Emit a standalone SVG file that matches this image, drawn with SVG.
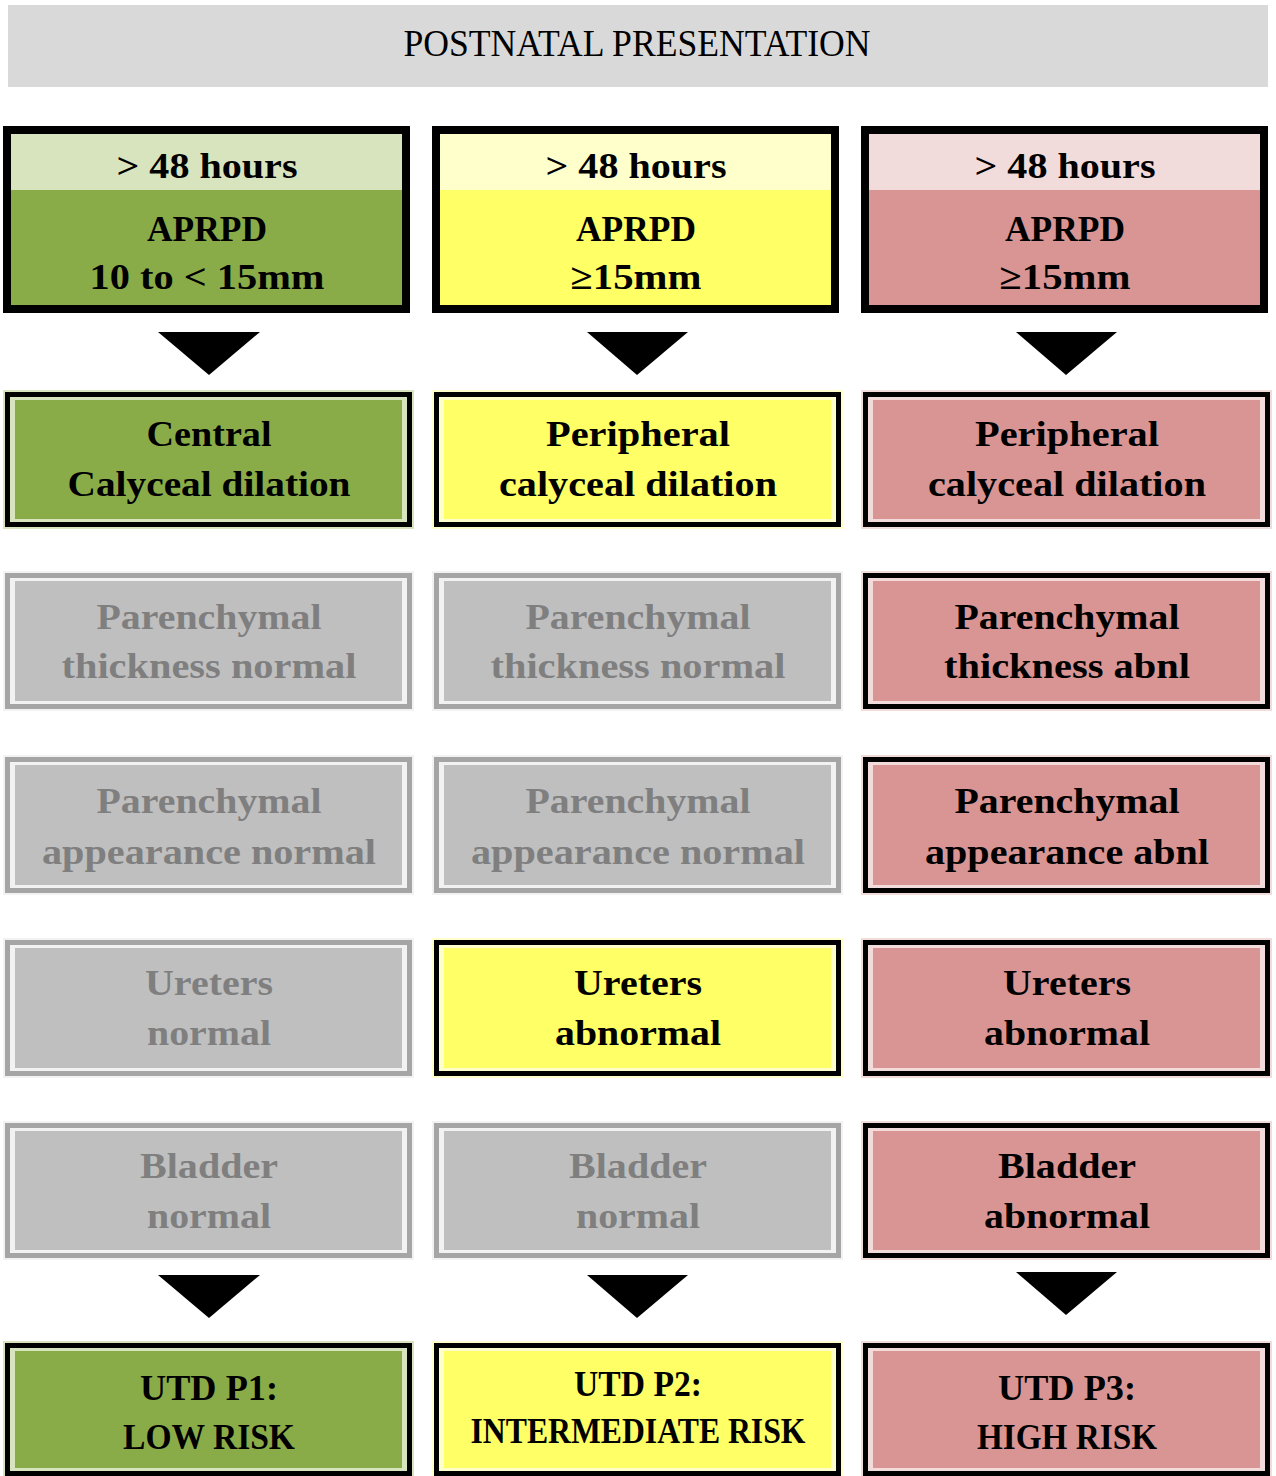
<svg xmlns="http://www.w3.org/2000/svg" width="1276" height="1476" viewBox="0 0 1276 1476">
<style>
.t{font-family:"Liberation Serif","DejaVu Serif",serif;font-weight:bold;font-size:36px;text-anchor:middle;fill:#000}
.tg{fill:#7f7f7f}
.title{font-family:"Liberation Serif","DejaVu Serif",serif;font-size:38px;text-anchor:middle;fill:#000}
.blk{fill:#000}
.gb{fill:#a5a5a5}
.gl{fill:#f2f2f2}
.gf{fill:#bfbfbf}
.grl{fill:#d7e4bd}
.grf{fill:#8aac48}
.yl{fill:#ffffcc}
.yf{fill:#ffff66}
.rl{fill:#f2dcdb}
.rf{fill:#d99594}
.arr{fill:#000}
</style>
<rect x="0" y="0" width="1276" height="1476" fill="#fff"/>
<g id="title">
<rect x="8" y="5" width="1260" height="82" fill="#d9d9d9"/>
<text class="title" x="637" y="56" textLength="467" lengthAdjust="spacingAndGlyphs">POSTNATAL PRESENTATION</text>
</g>

<!-- Top row -->
<g id="top1">
<rect class="blk" x="3" y="126" width="407" height="187"/>
<rect class="grl" x="11" y="134" width="391" height="56"/>
<rect class="grf" x="11" y="190" width="391" height="115"/>
<text class="t" x="207" y="178" textLength="181" lengthAdjust="spacingAndGlyphs">&gt; 48 hours</text>
<text class="t" x="207" y="241" textLength="120" lengthAdjust="spacingAndGlyphs">APRPD</text>
<text class="t" x="207" y="289" textLength="235" lengthAdjust="spacingAndGlyphs">10 to &lt; 15mm</text>
</g>
<g id="top2">
<rect class="blk" x="432" y="126" width="407" height="187"/>
<rect class="yl" x="440" y="134" width="391" height="56"/>
<rect class="yf" x="440" y="190" width="391" height="115"/>
<text class="t" x="636" y="178" textLength="181" lengthAdjust="spacingAndGlyphs">&gt; 48 hours</text>
<text class="t" x="636" y="241" textLength="120" lengthAdjust="spacingAndGlyphs">APRPD</text>
<text class="t" x="636" y="289" textLength="131" lengthAdjust="spacingAndGlyphs">≥15mm</text>
</g>
<g id="top3">
<rect class="blk" x="861" y="126" width="407" height="187"/>
<rect class="rl" x="869" y="134" width="391" height="56"/>
<rect class="rf" x="869" y="190" width="391" height="115"/>
<text class="t" x="1065" y="178" textLength="181" lengthAdjust="spacingAndGlyphs">&gt; 48 hours</text>
<text class="t" x="1065" y="241" textLength="120" lengthAdjust="spacingAndGlyphs">APRPD</text>
<text class="t" x="1065" y="289" textLength="131" lengthAdjust="spacingAndGlyphs">≥15mm</text>
</g>

<!-- Row 1 -->
<g id="r1c1">
<rect class="grl" x="3" y="390" width="411" height="139"/>
<rect class="blk" x="5" y="392" width="407" height="135"/>
<rect class="grl" x="10" y="397" width="397" height="125"/>
<rect class="grf" x="15" y="400" width="387" height="119"/>
<text class="t" x="209" y="446" textLength="125" lengthAdjust="spacingAndGlyphs">Central</text>
<text class="t" x="209" y="496" textLength="283" lengthAdjust="spacingAndGlyphs">Calyceal dilation</text>
</g>
<g id="r1c2">
<rect class="yl" x="432" y="390" width="411" height="139"/>
<rect class="blk" x="434" y="392" width="407" height="135"/>
<rect class="yl" x="439" y="397" width="397" height="125"/>
<rect class="yf" x="444" y="400" width="387" height="119"/>
<text class="t" x="638" y="446" textLength="184" lengthAdjust="spacingAndGlyphs">Peripheral</text>
<text class="t" x="638" y="496" textLength="278" lengthAdjust="spacingAndGlyphs">calyceal dilation</text>
</g>
<g id="r1c3">
<rect class="rl" x="861" y="390" width="411" height="139"/>
<rect class="blk" x="863" y="392" width="407" height="135"/>
<rect class="rl" x="868" y="397" width="397" height="125"/>
<rect class="rf" x="873" y="400" width="387" height="119"/>
<text class="t" x="1067" y="446" textLength="184" lengthAdjust="spacingAndGlyphs">Peripheral</text>
<text class="t" x="1067" y="496" textLength="278" lengthAdjust="spacingAndGlyphs">calyceal dilation</text>
</g>

<!-- Row 2 -->
<g id="r2c1">
<rect class="gl" x="3" y="571" width="411" height="140"/>
<rect class="gb" x="5" y="573" width="407" height="136"/>
<rect class="gl" x="10" y="578" width="397" height="126"/>
<rect class="gf" x="15" y="581" width="387" height="120"/>
<text class="t tg" x="209" y="629" textLength="225" lengthAdjust="spacingAndGlyphs">Parenchymal</text>
<text class="t tg" x="209" y="678" textLength="295" lengthAdjust="spacingAndGlyphs">thickness normal</text>
</g>
<g id="r2c2">
<rect class="gl" x="432" y="571" width="411" height="140"/>
<rect class="gb" x="434" y="573" width="407" height="136"/>
<rect class="gl" x="439" y="578" width="397" height="126"/>
<rect class="gf" x="444" y="581" width="387" height="120"/>
<text class="t tg" x="638" y="629" textLength="225" lengthAdjust="spacingAndGlyphs">Parenchymal</text>
<text class="t tg" x="638" y="678" textLength="295" lengthAdjust="spacingAndGlyphs">thickness normal</text>
</g>
<g id="r2c3">
<rect class="rl" x="861" y="571" width="411" height="140"/>
<rect class="blk" x="863" y="573" width="407" height="136"/>
<rect class="rl" x="868" y="578" width="397" height="126"/>
<rect class="rf" x="873" y="581" width="387" height="120"/>
<text class="t" x="1067" y="629" textLength="225" lengthAdjust="spacingAndGlyphs">Parenchymal</text>
<text class="t" x="1067" y="678" textLength="246" lengthAdjust="spacingAndGlyphs">thickness abnl</text>
</g>

<!-- Row 3 -->
<g id="r3c1">
<rect class="gl" x="3" y="755" width="411" height="140"/>
<rect class="gb" x="5" y="757" width="407" height="136"/>
<rect class="gl" x="10" y="762" width="397" height="126"/>
<rect class="gf" x="15" y="765" width="387" height="120"/>
<text class="t tg" x="209" y="813" textLength="225" lengthAdjust="spacingAndGlyphs">Parenchymal</text>
<text class="t tg" x="209" y="864" textLength="334" lengthAdjust="spacingAndGlyphs">appearance normal</text>
</g>
<g id="r3c2">
<rect class="gl" x="432" y="755" width="411" height="140"/>
<rect class="gb" x="434" y="757" width="407" height="136"/>
<rect class="gl" x="439" y="762" width="397" height="126"/>
<rect class="gf" x="444" y="765" width="387" height="120"/>
<text class="t tg" x="638" y="813" textLength="225" lengthAdjust="spacingAndGlyphs">Parenchymal</text>
<text class="t tg" x="638" y="864" textLength="334" lengthAdjust="spacingAndGlyphs">appearance normal</text>
</g>
<g id="r3c3">
<rect class="rl" x="861" y="755" width="411" height="140"/>
<rect class="blk" x="863" y="757" width="407" height="136"/>
<rect class="rl" x="868" y="762" width="397" height="126"/>
<rect class="rf" x="873" y="765" width="387" height="120"/>
<text class="t" x="1067" y="813" textLength="225" lengthAdjust="spacingAndGlyphs">Parenchymal</text>
<text class="t" x="1067" y="864" textLength="284" lengthAdjust="spacingAndGlyphs">appearance abnl</text>
</g>

<!-- Row 4 -->
<g id="r4c1">
<rect class="gl" x="3" y="938" width="411" height="140"/>
<rect class="gb" x="5" y="940" width="407" height="136"/>
<rect class="gl" x="10" y="945" width="397" height="126"/>
<rect class="gf" x="15" y="948" width="387" height="120"/>
<text class="t tg" x="209" y="995" textLength="128" lengthAdjust="spacingAndGlyphs">Ureters</text>
<text class="t tg" x="209" y="1045" textLength="124" lengthAdjust="spacingAndGlyphs">normal</text>
</g>
<g id="r4c2">
<rect class="yl" x="432" y="938" width="411" height="140"/>
<rect class="blk" x="434" y="940" width="407" height="136"/>
<rect class="yl" x="439" y="945" width="397" height="126"/>
<rect class="yf" x="444" y="948" width="387" height="120"/>
<text class="t" x="638" y="995" textLength="128" lengthAdjust="spacingAndGlyphs">Ureters</text>
<text class="t" x="638" y="1045" textLength="166" lengthAdjust="spacingAndGlyphs">abnormal</text>
</g>
<g id="r4c3">
<rect class="rl" x="861" y="938" width="411" height="140"/>
<rect class="blk" x="863" y="940" width="407" height="136"/>
<rect class="rl" x="868" y="945" width="397" height="126"/>
<rect class="rf" x="873" y="948" width="387" height="120"/>
<text class="t" x="1067" y="995" textLength="128" lengthAdjust="spacingAndGlyphs">Ureters</text>
<text class="t" x="1067" y="1045" textLength="166" lengthAdjust="spacingAndGlyphs">abnormal</text>
</g>

<!-- Row 5 -->
<g id="r5c1">
<rect class="gl" x="3" y="1121" width="411" height="139"/>
<rect class="gb" x="5" y="1123" width="407" height="135"/>
<rect class="gl" x="10" y="1128" width="397" height="125"/>
<rect class="gf" x="15" y="1131" width="387" height="119"/>
<text class="t tg" x="209" y="1178" textLength="138" lengthAdjust="spacingAndGlyphs">Bladder</text>
<text class="t tg" x="209" y="1228" textLength="124" lengthAdjust="spacingAndGlyphs">normal</text>
</g>
<g id="r5c2">
<rect class="gl" x="432" y="1121" width="411" height="139"/>
<rect class="gb" x="434" y="1123" width="407" height="135"/>
<rect class="gl" x="439" y="1128" width="397" height="125"/>
<rect class="gf" x="444" y="1131" width="387" height="119"/>
<text class="t tg" x="638" y="1178" textLength="138" lengthAdjust="spacingAndGlyphs">Bladder</text>
<text class="t tg" x="638" y="1228" textLength="124" lengthAdjust="spacingAndGlyphs">normal</text>
</g>
<g id="r5c3">
<rect class="rl" x="861" y="1121" width="411" height="139"/>
<rect class="blk" x="863" y="1123" width="407" height="135"/>
<rect class="rl" x="868" y="1128" width="397" height="125"/>
<rect class="rf" x="873" y="1131" width="387" height="119"/>
<text class="t" x="1067" y="1178" textLength="138" lengthAdjust="spacingAndGlyphs">Bladder</text>
<text class="t" x="1067" y="1228" textLength="166" lengthAdjust="spacingAndGlyphs">abnormal</text>
</g>

<!-- Row 6 -->
<g id="r6c1">
<rect class="grl" x="3" y="1341" width="411" height="137"/>
<rect class="blk" x="5" y="1343" width="407" height="133"/>
<rect class="grl" x="10" y="1348" width="397" height="123"/>
<rect class="grf" x="15" y="1351" width="387" height="117"/>
<text class="t" x="209" y="1400" textLength="138" lengthAdjust="spacingAndGlyphs">UTD P1:</text>
<text class="t" x="209" y="1449" textLength="172" lengthAdjust="spacingAndGlyphs">LOW RISK</text>
</g>
<g id="r6c2">
<rect class="yl" x="432" y="1341" width="411" height="137"/>
<rect class="blk" x="434" y="1343" width="407" height="133"/>
<rect class="yl" x="439" y="1348" width="397" height="123"/>
<rect class="yf" x="444" y="1351" width="387" height="117"/>
<text class="t" x="638" y="1396" font-size="33" textLength="128" lengthAdjust="spacingAndGlyphs">UTD P2:</text>
<text class="t" x="638" y="1443" font-size="33" textLength="335" lengthAdjust="spacingAndGlyphs">INTERMEDIATE RISK</text>
</g>
<g id="r6c3">
<rect class="rl" x="861" y="1341" width="411" height="137"/>
<rect class="blk" x="863" y="1343" width="407" height="133"/>
<rect class="rl" x="868" y="1348" width="397" height="123"/>
<rect class="rf" x="873" y="1351" width="387" height="117"/>
<text class="t" x="1067" y="1400" textLength="138" lengthAdjust="spacingAndGlyphs">UTD P3:</text>
<text class="t" x="1067" y="1449" textLength="180" lengthAdjust="spacingAndGlyphs">HIGH RISK</text>
</g>

<g id="connectors">
<polygon class="arr" points="158,332 260,332 209,375"/>
<polygon class="arr" points="587,332 688,332 637,375"/>
<polygon class="arr" points="1016,332 1117,332 1066,375"/>
<polygon class="arr" points="158,1275 260,1275 209,1318"/>
<polygon class="arr" points="587,1275 688,1275 637,1318"/>
<polygon class="arr" points="1016,1272 1117,1272 1066,1315"/>
</g>
</svg>
